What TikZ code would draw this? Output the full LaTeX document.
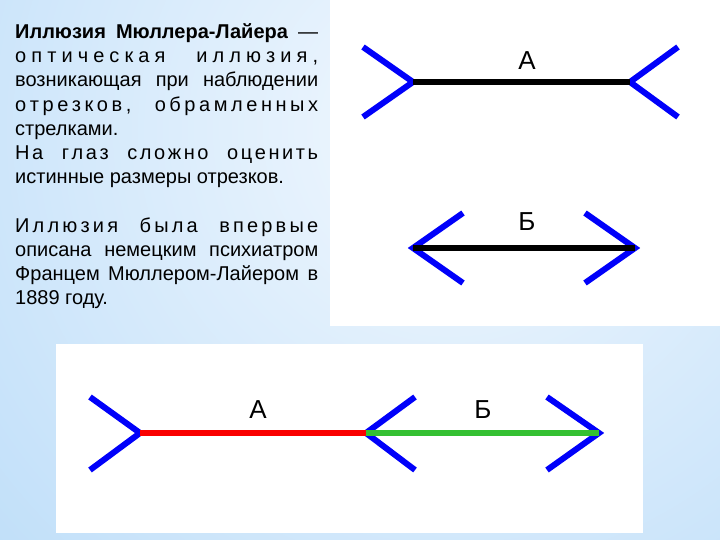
\documentclass[tikz,border=0pt]{standalone}
\usepackage{fontspec}
\setmainfont{Liberation Sans}
\definecolor{bgblue}{RGB}{162,208,246}
\definecolor{bglight}{RGB}{242,248,254}
\definecolor{finblue}{RGB}{0,0,250}
\definecolor{segred}{RGB}{250,0,0}
\definecolor{seggreen}{RGB}{52,192,50}
\newcommand\lspA[1]{#1\lspB}
\newcommand\lspB[1]{\ifx#1\relax\else\hfill#1\expandafter\lspB\fi}
\newcommand\wg{\hfill\hfill\hfill\hfill\hfill\hspace{0.28em}}
\newcommand\fl[1]{\makebox[303pt][s]{#1}}
\tikzset{
  txt/.style={anchor=base west, inner sep=0pt, font=\fontsize{20}{24}\selectfont},
  lbl/.style={inner sep=0pt, font=\fontsize{26}{30}\selectfont},
  fin/.style={draw=finblue, line width=6pt, line cap=butt, line join=miter},
  seg/.style={line width=6pt, line cap=butt},
  panel/.style={fill=white, draw=none}
}
\begin{document}
\begin{tikzpicture}[x=1pt,y=-1pt]
\useasboundingbox (0,0) rectangle (720,540);
\begin{scope}
  \clip (0,0) rectangle (720,540);
  \shade[inner color=bglight, outer color=bgblue] (450,130) circle (1000);
\end{scope}
% panels
\fill[panel] (330,0) rectangle (720,326);
\fill[panel] (56,344) rectangle (643,533);
% text
\node[txt] (t1) at (15,38.5) {\fl{\textbf{Иллюзия Мюллера-Лайера} —}};
\node[txt] (t2) at (15,62.7) {\fl{\lspA оптическая\relax\wg\lspA иллюзия,\relax}};
\node[txt] (t3) at (15,86.9) {\fl{возникающая при наблюдении}};
\node[txt] (t4) at (15,111.1) {\fl{\lspA отрезков,\relax\wg\lspA обрамленных\relax}};
\node[txt] (t5) at (15,135.3) {стрелками.};
\node[txt] (t6) at (15,159.5) {\fl{\lspA На\relax\wg\lspA глаз\relax\wg\lspA сложно\relax\wg\lspA оценить\relax}};
\node[txt] (t7) at (15,183.7) {истинные размеры отрезков.};
\node[txt] (t9) at (15,232.1) {\fl{\lspA Иллюзия\relax\wg\lspA была\relax\wg\lspA впервые\relax}};
\node[txt] (t10) at (15,256.3) {\fl{описана немецким психиатром}};
\node[txt] (t11) at (15,280.5) {\fl{Францем Мюллером-Лайером в}};
\node[txt] (t12) at (15,304.7) {1889 году.};
% figure A (top)
\coordinate (aL) at (413,82);
\coordinate (aR) at (630,82);
\coordinate (aL1) at (363,47);
\coordinate (aL2) at (363,117);
\coordinate (aR1) at (678,47);
\coordinate (aR2) at (678,117);
\draw[fin] (aL1) -- (aL) -- (aL2);
\draw[fin] (aR1) -- (aR) -- (aR2);
\draw[seg, black] (aL) -- (aR);
\node[lbl] (la) at (527,61) {А};
% figure B (top)
\coordinate (bL) at (413,248);
\coordinate (bR) at (635,248);
\coordinate (bL1) at (463,213);
\coordinate (bL2) at (463,283);
\coordinate (bR1) at (585,213);
\coordinate (bR2) at (585,283);
\draw[fin] (bL1) -- (bL) -- (bL2);
\draw[fin] (bR1) -- (bR) -- (bR2);
\draw[seg, black] (bL) -- (bR);
\node[lbl] (lb) at (527,222) {Б};
% bottom combined figure
\coordinate (cL) at (140,433);
\coordinate (cM) at (366,433);
\coordinate (cR) at (599,433);
\coordinate (cL1) at (90,397);
\coordinate (cL2) at (90,470);
\coordinate (cM1) at (415,397);
\coordinate (cM2) at (415,470);
\coordinate (cR1) at (547,397);
\coordinate (cR2) at (547,470);
\draw[fin] (cL1) -- (cL) -- (cL2);
\draw[fin] (cM1) -- (cM) -- (cM2);
\draw[fin] (cR1) -- (cR) -- (cR2);
\draw[seg, segred] (cL) -- (cM);
\draw[seg, seggreen] (cM) -- (cR);
\node[lbl] (lca) at (258,410) {А};
\node[lbl] (lcb) at (483,410) {Б};
\end{tikzpicture}
\end{document}
